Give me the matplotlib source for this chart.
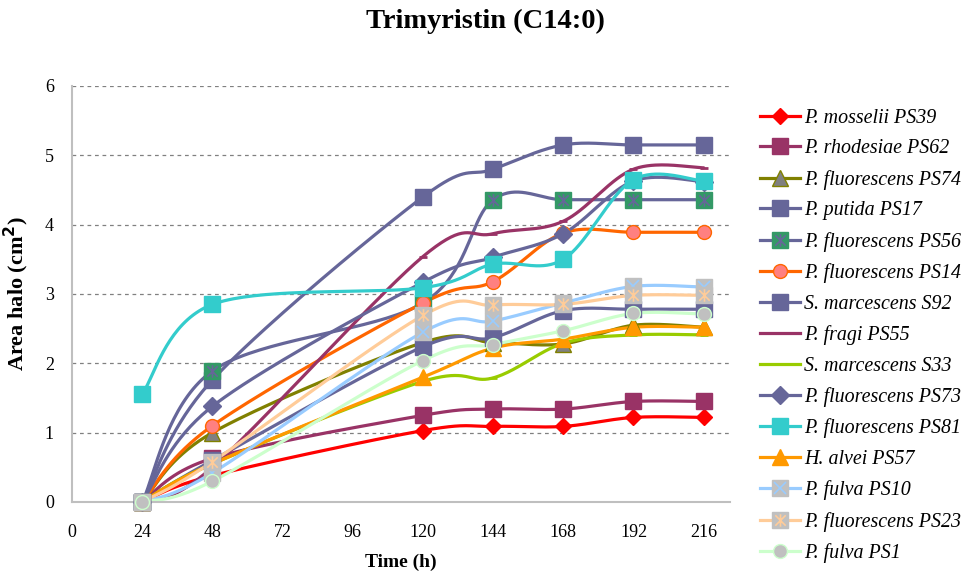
import numpy as np
import matplotlib
matplotlib.use("Agg")
import matplotlib.pyplot as plt
from matplotlib.lines import Line2D
from matplotlib.path import Path

plt.rcParams['font.family'] = ['Liberation Serif', 'DejaVu Serif']

hours = [24, 48, 120, 144, 168, 192, 216]
x_ticks = [0, 24, 48, 72, 96, 120, 144, 168, 192, 216]
y_ticks = [0, 1, 2, 3, 4, 5, 6]

ps39 = [0, 0.38, 1.03, 1.09, 1.09, 1.22, 1.22]
ps62 = [0, 0.63, 1.25, 1.34, 1.34, 1.45, 1.45]
ps74 = [0, 1.00, 2.30, 2.30, 2.28, 2.55, 2.52]
ps17 = [0, 1.76, 4.40, 4.80, 5.15, 5.15, 5.15]
ps56 = [0, 1.89, 2.87, 4.36, 4.36, 4.36, 4.36]
ps14 = [0, 1.10, 2.87, 3.18, 3.88, 3.89, 3.89]
s92 = [0, 0.60, 2.24, 2.37, 2.76, 2.78, 2.78]
ps55 = [0, 0.50, 3.54, 3.87, 4.05, 4.80, 4.82]
s33 = [0, 0.55, 1.74, 1.79, 2.29, 2.41, 2.41]
ps73 = [0, 1.38, 3.17, 3.53, 3.87, 4.63, 4.62]
ps81 = [1.56, 2.85, 3.09, 3.43, 3.50, 4.65, 4.63]
ps57 = [0, 0.55, 1.80, 2.22, 2.35, 2.52, 2.52]
ps10 = [0, 0.42, 2.45, 2.61, 2.87, 3.11, 3.10]
ps23 = [0, 0.58, 2.69, 2.84, 2.85, 2.98, 2.98]
ps1 = [0, 0.30, 2.04, 2.27, 2.47, 2.72, 2.71]

labels = ["P. mosselii PS39", "P. rhodesiae PS62", "P. fluorescens PS74",
          "P. putida PS17", "P. fluorescens PS56", "P. fluorescens PS14",
          "S. marcescens S92", "P. fragi PS55", "S. marcescens S33",
          "P. fluorescens PS73", "P. fluorescens PS81", "H. alvei PS57",
          "P. fulva PS10", "P. fluorescens PS23", "P. fulva PS1"]
series = [ps39, ps62, ps74, ps17, ps56, ps14, s92, ps55, s33, ps73, ps81,
          ps57, ps10, ps23, ps1]

star = Path([(-1, -1), (1, 1), (-1, 1), (1, -1), (0, -1.2), (0, 1.2)],
            [Path.MOVETO, Path.LINETO, Path.MOVETO, Path.LINETO,
             Path.MOVETO, Path.LINETO])

styles = [
    dict(c='#FF0000', m='D', fc='#FF0000', ec='#FF0000', ms=8.5, ov=None),
    dict(c='#993366', m='s', fc='#993366', ec='#993366', ms=11, ov=None),
    dict(c='#808000', m='^', fc='#808080', ec='#808000', ms=11, ov=None),
    dict(c='#666699', m='s', fc='#666699', ec='#666699', ms=12, ov=None),
    dict(c='#666699', m='s', fc='#339966', ec='#339966', ms=12, ov=(star, '#666699')),
    dict(c='#FF6600', m='o', fc='#FF8080', ec='#FF6600', ms=10, ov=None),
    dict(c='#666699', m='s', fc='#666699', ec='#666699', ms=12, ov=None),
    dict(c='#993366', m='_', fc='#993366', ec='#993366', ms=6, ov=None),
    dict(c='#99CC00', m='_', fc='#99CC00', ec='#99CC00', ms=6, ov=None),
    dict(c='#666699', m='D', fc='#666699', ec='#666699', ms=9, ov=None),
    dict(c='#33CCCC', m='s', fc='#33CCCC', ec='#33CCCC', ms=11, ov=None),
    dict(c='#FF9900', m='^', fc='#FF9900', ec='#FF9900', ms=11, ov=None),
    dict(c='#99CCFF', m='s', fc='#C0C0C0', ec='#C0C0C0', ms=12, ov=('x', '#99CCFF')),
    dict(c='#FFCC99', m='s', fc='#C0C0C0', ec='#C0C0C0', ms=12, ov=(star, '#FFCC99')),
    dict(c='#CCFFCC', m='o', fc='#C0C0C0', ec='#CCFFCC', ms=10, ov=None),
]


def smooth(x, y, n=40):
    pts = np.column_stack([x, y]).astype(float)
    k = len(pts)
    xs, ys = [], []
    t = np.linspace(0, 1, n)[:, None]
    for i in range(k - 1):
        p0 = pts[max(i - 1, 0)]
        p1 = pts[i]
        p2 = pts[i + 1]
        p3 = pts[min(i + 2, k - 1)]
        c1 = p1 + (p2 - p0) / 6.0
        c2 = p2 - (p3 - p1) / 6.0
        b = ((1 - t) ** 3) * p1 + 3 * ((1 - t) ** 2) * t * c1 + \
            3 * (1 - t) * t ** 2 * c2 + t ** 3 * p2
        xs.append(b[:, 0])
        ys.append(b[:, 1])
    return np.concatenate(xs), np.concatenate(ys)


fig = plt.figure(figsize=(9.7, 5.79), dpi=100)
ax = fig.add_axes([72 / 970, 1 - 502 / 579, (730 - 72) / 970, (502 - 86) / 579])

handles = []
for vals, st, lab in zip(series, styles, labels):
    sx, sy = smooth(hours, vals)
    ax.plot(sx, sy, color=st['c'], lw=2.3, solid_capstyle='round', zorder=2)
    mew = 2 if st['m'] == '_' else 1
    ax.plot(hours, vals, ls='none', marker=st['m'], ms=st['ms'],
            mfc=st['fc'], mec=st['ec'], mew=mew, clip_on=False, zorder=3)
    h_line = Line2D([], [], color=st['c'], lw=2.3, marker=st['m'], ms=st['ms'],
                    mfc=st['fc'], mec=st['ec'], mew=mew)
    if st['ov'] is not None:
        om, oc = st['ov']
        oms = st['ms'] * 0.75
        ax.plot(hours, vals, ls='none', marker=om, ms=oms, mec=oc, mew=1.2,
                clip_on=False, zorder=3)
        h_ov = Line2D([], [], ls='none', marker=om, ms=oms, mec=oc, mew=1.2)
        handles.append((h_line, h_ov))
    else:
        handles.append(h_line)

ax.set_xlim(0, 225)
ax.set_ylim(0, 6)
ax.set_xticks(x_ticks)
ax.set_yticks(y_ticks)
ax.tick_params(axis='both', length=0, labelsize=13)
ax.tick_params(axis='x', pad=16)
ax.tick_params(axis='y', pad=13)
ax.yaxis.grid(True, color='#808080', ls=(0, (3, 3)), lw=0.9)
ax.set_axisbelow(True)
for s in ['top', 'right']:
    ax.spines[s].set_visible(False)
for s in ['left', 'bottom']:
    ax.spines[s].set_color('#BFBFBF')
    ax.spines[s].set_linewidth(1.5)

ax.set_xlabel('Time (h)', fontsize=14, fontweight='bold', labelpad=9)
ax.set_ylabel('Area halo (cm$^\\mathbf{2}$)', fontsize=16, fontweight='bold', labelpad=10)
fig.text(0.5, 1 - 21 / 579, 'Trimyristin (C14:0)', ha='center', va='center',
         fontsize=20.5, fontweight='bold')

leg = fig.legend(handles, labels, loc='upper left',
                 bbox_to_anchor=(750 / 970, 1 - 99 / 579), frameon=False,
                 prop={'style': 'italic', 'size': 14.4}, handlelength=2.0,
                 labelspacing=0.575, handletextpad=0.2, borderpad=0)

fig.savefig('out.png', dpi=100)
